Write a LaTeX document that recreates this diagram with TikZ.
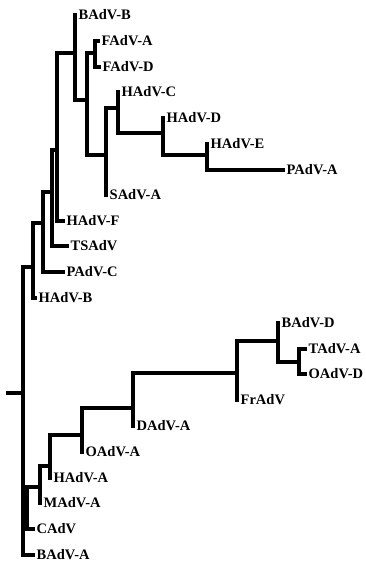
\documentclass[tikz,border=0pt]{standalone}
\usepackage{fontspec}
\setmainfont{Liberation Serif}
\begin{document}
\begin{tikzpicture}[x=1pt,y=-1pt,
  branch/.style={line width=3.3pt,line cap=rect,line join=miter},
  leaflbl/.style={anchor=west,inner sep=0pt,text height=9.5pt,text depth=0pt,
    font=\fontsize{14.5}{15}\selectfont\bfseries,xshift=3.5pt}]
\useasboundingbox (0,0) rectangle (365,563);
% internal nodes
\coordinate (root) at (23,393);
\coordinate (stub) at (8,393);
\coordinate (N1) at (33,267);
\coordinate (N2) at (43,223);
\coordinate (N3) at (52,192);
\coordinate (N4) at (57,150);
\coordinate (N5) at (75,53);
\coordinate (N6) at (87,100);
\coordinate (FA) at (95,53);
\coordinate (N7) at (106,155);
\coordinate (N8) at (118,108);
\coordinate (N9) at (163,133);
\coordinate (N10) at (207,155);
\coordinate (P1) at (27,507);
\coordinate (P2) at (40,487);
\coordinate (P3) at (50,466);
\coordinate (P4) at (82,435);
\coordinate (Q1) at (133,408);
\coordinate (Q2) at (237,373);
\coordinate (Q3) at (278,341);
\coordinate (Q4) at (299,362);
% leaf tips
\coordinate (l0) at (75,15);
\coordinate (l1) at (98,41);
\coordinate (l2) at (99,67);
\coordinate (l3) at (118,92);
\coordinate (l4) at (163,118);
\coordinate (l5) at (207,144);
\coordinate (l6) at (283,170);
\coordinate (l7) at (106,195);
\coordinate (l8) at (63,221);
\coordinate (l9) at (67,246);
\coordinate (l10) at (63,272);
\coordinate (l11) at (35,298);
\coordinate (l12) at (278,323);
\coordinate (l13) at (305,349);
\coordinate (l14) at (305,374);
\coordinate (l15) at (237,400);
\coordinate (l16) at (133,426);
\coordinate (l17) at (82,452);
\coordinate (l18) at (50,478);
\coordinate (l19) at (40,503);
\coordinate (l20) at (33,529);
\coordinate (l21) at (33,555);
% labels
\node[leaflbl] (t0) at (l0) {BAdV-B};
\node[leaflbl] (t1) at (l1) {FAdV-A};
\node[leaflbl] (t2) at (l2) {FAdV-D};
\node[leaflbl] (t3) at (l3) {HAdV-C};
\node[leaflbl] (t4) at (l4) {HAdV-D};
\node[leaflbl] (t5) at (l5) {HAdV-E};
\node[leaflbl] (t6) at (l6) {PAdV-A};
\node[leaflbl] (t7) at (l7) {SAdV-A};
\node[leaflbl] (t8) at (l8) {HAdV-F};
\node[leaflbl] (t9) at (l9) {TSAdV};
\node[leaflbl] (t10) at (l10) {PAdV-C};
\node[leaflbl] (t11) at (l11) {HAdV-B};
\node[leaflbl] (t12) at (l12) {BAdV-D};
\node[leaflbl] (t13) at (l13) {TAdV-A};
\node[leaflbl] (t14) at (l14) {OAdV-D};
\node[leaflbl] (t15) at (l15) {FrAdV};
\node[leaflbl] (t16) at (l16) {DAdV-A};
\node[leaflbl] (t17) at (l17) {OAdV-A};
\node[leaflbl] (t18) at (l18) {HAdV-A};
\node[leaflbl] (t19) at (l19) {MAdV-A};
\node[leaflbl] (t20) at (l20) {CAdV};
\node[leaflbl] (t21) at (l21) {BAdV-A};
% branches
\draw[branch] (stub) -- (root);
\draw[branch] (root) |- (N1);
\draw[branch] (root) |- (P1);
\draw[branch] (root) |- (l21);
\draw[branch] (N1) |- (N2);
\draw[branch] (N1) |- (l11);
\draw[branch] (N2) |- (N3);
\draw[branch] (N2) |- (l10);
\draw[branch] (N3) |- (N4);
\draw[branch] (N3) |- (l9);
\draw[branch] (N4) |- (N5);
\draw[branch] (N4) |- (l8);
\draw[branch] (N5) |- (l0);
\draw[branch] (N5) |- (N6);
\draw[branch] (N6) |- (FA);
\draw[branch] (N6) |- (N7);
\draw[branch] (FA) |- (l1);
\draw[branch] (FA) |- (l2);
\draw[branch] (N7) |- (N8);
\draw[branch] (N7) |- (l7);
\draw[branch] (N8) |- (l3);
\draw[branch] (N8) |- (N9);
\draw[branch] (N9) |- (l4);
\draw[branch] (N9) |- (N10);
\draw[branch] (N10) |- (l5);
\draw[branch] (N10) |- (l6);
\draw[branch] (P1) |- (P2);
\draw[branch] (P1) |- (l20);
\draw[branch] (P2) |- (P3);
\draw[branch] (P2) |- (l19);
\draw[branch] (P3) |- (P4);
\draw[branch] (P3) |- (l18);
\draw[branch] (P4) |- (Q1);
\draw[branch] (P4) |- (l17);
\draw[branch] (Q1) |- (Q2);
\draw[branch] (Q1) |- (l16);
\draw[branch] (Q2) |- (Q3);
\draw[branch] (Q2) |- (l15);
\draw[branch] (Q3) |- (l12);
\draw[branch] (Q3) |- (Q4);
\draw[branch] (Q4) |- (l13);
\draw[branch] (Q4) |- (l14);
\end{tikzpicture}
\end{document}
